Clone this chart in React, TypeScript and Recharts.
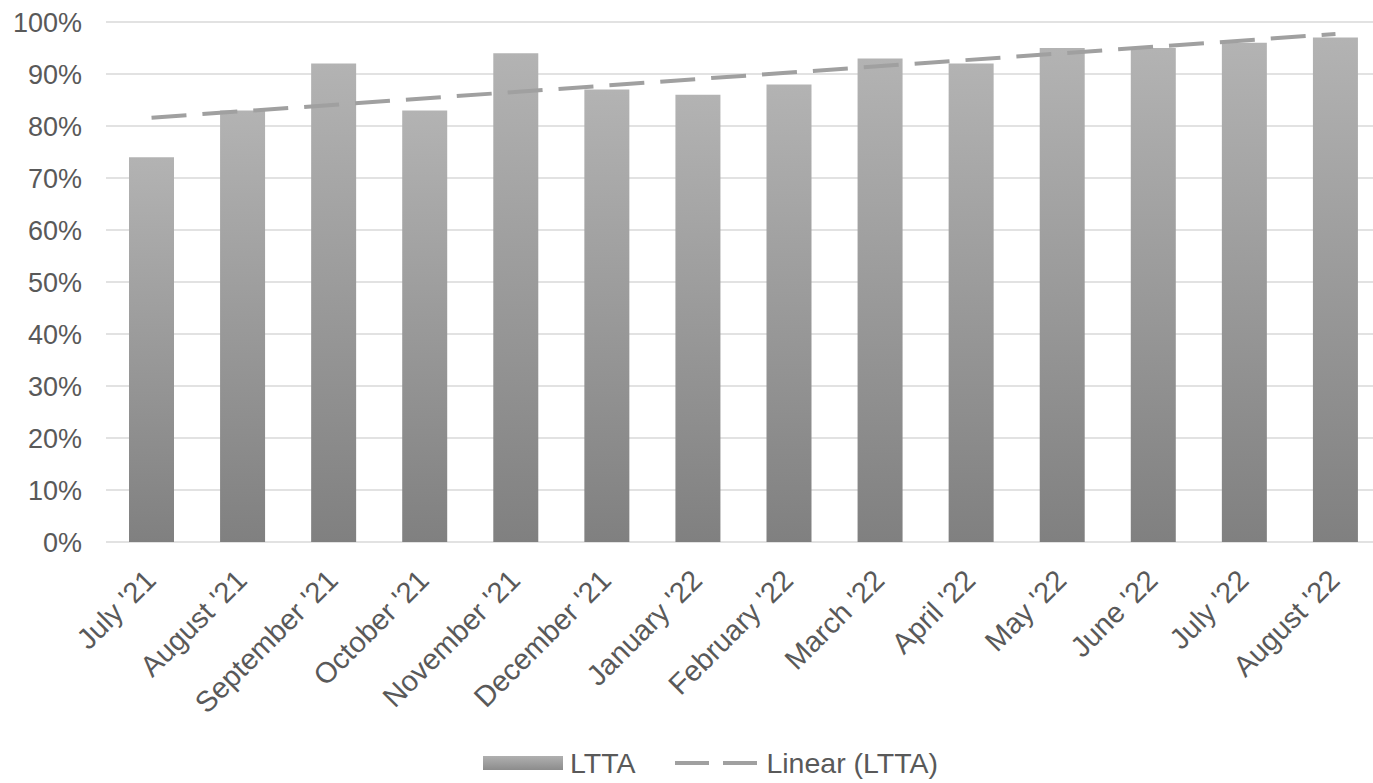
import {
  Bar,
  CartesianGrid,
  ComposedChart,
  Legend,
  Line,
  XAxis,
  YAxis,
} from 'recharts'

const months = [
  "July '21",
  "August '21",
  "September '21",
  "October '21",
  "November '21",
  "December '21",
  "January '22",
  "February '22",
  "March '22",
  "April '22",
  "May '22",
  "June '22",
  "July '22",
  "August '22",
]

// LTTA share per month, in percent
const ltta = [74, 83, 92, 83, 94, 87, 86, 88, 93, 92, 95, 95, 96, 97]

// Linear trend endpoints (first and last month), in percent
const trendEnds = [81.6, 97.7]

const yTicks = [0, 10, 20, 30, 40, 50, 60, 70, 80, 90, 100]

const data = months.map((m, i) => ({
  month: m,
  ltta: ltta[i],
  trend: i === 0 ? trendEnds[0] : i === months.length - 1 ? trendEnds[1] : null,
}))

const FONT = '"Liberation Sans", Arial, sans-serif'
const TEXT = '#595959'
const TREND = '#a0a0a0'

type TickProps = { x?: number; y?: number; payload?: { value?: string } }

function MonthTick({ x = 0, y = 0, payload }: TickProps) {
  return (
    <g transform={`translate(${x + 6},${y + 32})`}>
      <text
        x={0}
        y={0}
        textAnchor="end"
        transform="rotate(-45)"
        fill={TEXT}
        fontSize={29}
        fontFamily={FONT}
      >
        {payload?.value}
      </text>
    </g>
  )
}

function LegendContent() {
  return (
    <div
      style={{
        height: 40,
        display: 'flex',
        alignItems: 'center',
        justifyContent: 'center',
        fontFamily: FONT,
        fontSize: 28.5,
        color: TEXT,
        paddingLeft: 40,
      }}
    >
      <svg width={80} height={14} style={{ marginRight: 7 }}>
        <defs>
          <linearGradient id="legendBar" x1="0" y1="0" x2="0" y2="1">
            <stop offset="0%" stopColor="#b0b0b0" />
            <stop offset="100%" stopColor="#8c8c8c" />
          </linearGradient>
        </defs>
        <rect x={0} y={0} width={80} height={14} fill="url(#legendBar)" />
      </svg>
      <span>LTTA</span>
      <svg width={82} height={14} style={{ marginLeft: 40, marginRight: 9 }}>
        <line
          x1={0}
          y1={7}
          x2={82}
          y2={7}
          stroke={TREND}
          strokeWidth={4}
          strokeDasharray="34 14"
        />
      </svg>
      <span>Linear (LTTA)</span>
    </div>
  )
}

export default function App() {
  return (
    <div
      style={{
        position: 'absolute',
        left: 0,
        top: 0,
        width: 1373,
        height: 783,
        overflow: 'hidden',
        background: '#fff',
      }}
    >
      <ComposedChart
        width={1392}
        height={783}
        data={data}
        margin={{ top: 22, right: 11, bottom: 0, left: 0 }}
        barSize={45}
      >
        <defs>
          <linearGradient id="barFill" x1="0" y1="0" x2="0" y2="1">
            <stop offset="0%" stopColor="#b3b3b3" />
            <stop offset="100%" stopColor="#808080" />
          </linearGradient>
        </defs>
        <CartesianGrid
          vertical={false}
          stroke="#d9d9d9"
          strokeWidth={1.5}
        />
        <XAxis
          dataKey="month"
          interval={0}
          height={201}
          axisLine={false}
          tickLine={false}
          tick={<MonthTick />}
        />
        <YAxis
          width={106}
          domain={[0, 100]}
          ticks={yTicks}
          tickFormatter={v => `${v}%`}
          axisLine={false}
          tickLine={false}
          tickMargin={18}
          tick={{ fill: TEXT, fontSize: 27, fontFamily: FONT }}
        />
        <Bar dataKey="ltta" name="LTTA" fill="url(#barFill)" isAnimationActive={false} />
        <Line
          dataKey="trend"
          name="Linear (LTTA)"
          stroke={TREND}
          strokeWidth={4}
          strokeDasharray="35 16"
          dot={false}
          activeDot={false}
          connectNulls
          isAnimationActive={false}
        />
        <Legend verticalAlign="bottom" content={<LegendContent />} />
      </ComposedChart>
    </div>
  )
}
